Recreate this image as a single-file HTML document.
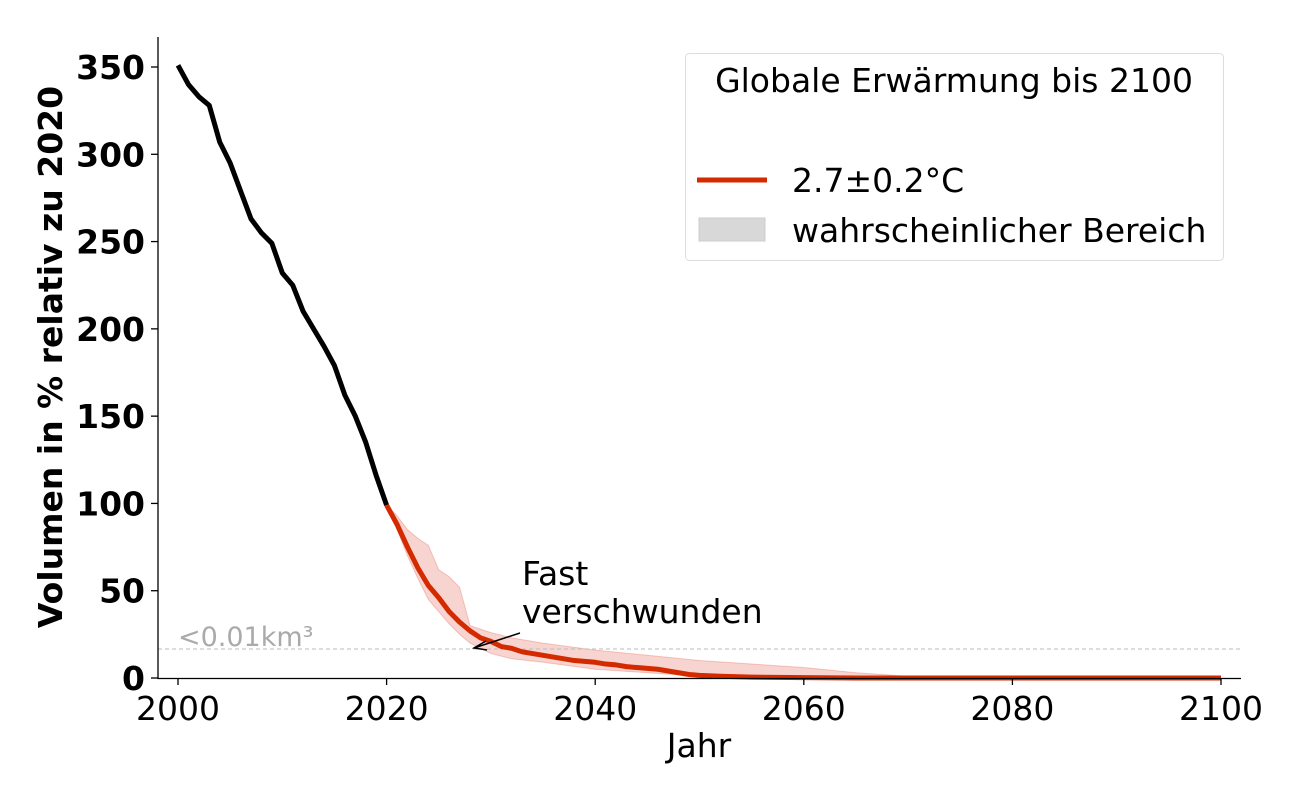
<!DOCTYPE html>
<html><head><meta charset="utf-8"><style>
body{margin:0;background:#fff;}
svg{display:block;font-family:"DejaVu Sans","Liberation Sans",sans-serif;}
</style></head><body>
<svg id="chart" width="1300" height="800">
<g id="plot"></g>
</svg>
<script>
const histYears=[2000,2001,2002,2003,2004,2005,2006,2007,2008,2009,2010,2011,2012,2013,2014,2015,2016,2017,2018,2019,2020];
const histValues=[351,340,333,328,307,295,279,263,255,249,232,225,210,200,190,179,162,150,135,116,99];
const projYears=[2020,2021,2022,2023,2024,2025,2026,2027,2028,2029,2030,2031,2032,2033,2034,2035,2036,2037,2038,2039,2040,2041,2042,2043,2044,2045,2046,2047,2048,2049,2050,2052,2055,2060,2065,2070,2080,2090,2100];
const projValues=[99,88,75,63,53,46,38,32,27,23,21,18,17,15,14,13,12,11,10,9.5,9,8,7.5,6.5,6,5.5,5,4,3,2,1.5,1,0.5,0.2,0,0,0,0,0];
const bandYears=[2020,2021,2022,2023,2024,2025,2026,2027,2028,2030,2032,2035,2040,2045,2050,2055,2060,2065,2070,2080,2100];
const bandUpper=[99,93,85,80,76,62,58,52,30,26,23,20,16,13,10,8,6,3,1,0,0];
const bandLower=[99,85,70,57,45,38,31,25,20,14,11,9,5,3,1,0.3,0,0,0,0,0];
const xTicks=[2000,2020,2040,2060,2080,2100];
const yTicks=[0,50,100,150,200,250,300,350];
const threshold=16.6;

const X=y=>178+(y-2000)*10.43;
const Y=v=>678-v*1.7457;
const g=document.getElementById('plot');
const NS='http://www.w3.org/2000/svg';
function mk(tag,attrs,parent){const e=document.createElementNS(NS,tag);for(const k in attrs)e.setAttribute(k,attrs[k]);(parent||g).appendChild(e);return e;}

let d='M'+bandYears.map((y,i)=>X(y)+','+Y(bandUpper[i])).join('L');
for(let i=bandYears.length-1;i>=0;i--)d+='L'+X(bandYears[i])+','+Y(bandLower[i]);
let band=mk('path',{d:d+'Z',fill:'rgba(220,60,40,0.22)',stroke:'rgba(220,60,40,0.25)','stroke-width':1});



let th=mk('line',{x1:158,x2:1241,y1:Y(threshold),y2:Y(threshold),stroke:'#bbb','stroke-width':1,'stroke-dasharray':'4,3'});


let tt=mk('text',{x:178,y:Y(threshold)-3,fill:'#aaa','font-size':27});tt.textContent='<0.01km³';



let hl=mk('polyline',{points:histYears.map((y,i)=>X(y)+','+Y(histValues[i])).join(' '),fill:'none',stroke:'#000','stroke-width':5,'stroke-linejoin':'round'});


let pl=mk('polyline',{points:projYears.map((y,i)=>X(y)+','+Y(projValues[i])).join(' '),fill:'none',stroke:'#d42a00','stroke-width':5,'stroke-linejoin':'round'});



let ax=mk('path',{d:'M158,37V678.5H1241',fill:'none',stroke:'#000','stroke-width':1.3});


xTicks.forEach(t=>{mk('line',{x1:X(t),x2:X(t),y1:678,y2:685,stroke:'#000','stroke-width':1.3});
 let l=mk('text',{x:X(t),y:720,'text-anchor':'middle','font-size':33});l.textContent=t;
 
 });
yTicks.forEach(t=>{mk('line',{x1:151,x2:158,y1:Y(t),y2:Y(t),stroke:'#000','stroke-width':1.3});
 let l=mk('text',{x:145,y:Y(t)+12,'text-anchor':'end','font-size':33,'font-weight':'bold'});l.textContent=t;
 
 });
let xt=mk('text',{x:699,y:757,'text-anchor':'middle','font-size':33});xt.textContent='Jahr';


let yt=mk('text',{transform:'translate(62,357) rotate(-90)','text-anchor':'middle','font-size':33,'font-weight':'bold'});yt.textContent='Volumen in % relativ zu 2020';



let an=mk('text',{x:522,y:585,'font-size':33});an.innerHTML='<tspan x="522">Fast</tspan><tspan x="522" dy="38">verschwunden</tspan>';


let ar=mk('path',{d:'M520,633L474,648M486,641L474,648L487,650',fill:'none',stroke:'#000','stroke-width':1.5});



const lg=mk('g',{});


mk('rect',{x:685.5,y:53.5,width:538,height:207,rx:4,fill:'#fff',stroke:'#ddd','stroke-width':1},lg);
let lt=mk('text',{x:954,y:92,'text-anchor':'middle','font-size':33},lg);lt.textContent='Globale Erwärmung bis 2100';


mk('line',{x1:697,x2:767,y1:180,y2:180,stroke:'#d42a00','stroke-width':5},lg);
let l1=mk('text',{x:792,y:192,'font-size':33},lg);l1.textContent='2.7±0.2°C';


mk('rect',{x:699,y:218,width:66,height:23,fill:'#d8d8d8',stroke:'#ccc'},lg);
let l2=mk('text',{x:792,y:242,'font-size':33},lg);l2.textContent='wahrscheinlicher Bereich';


</script>
</body></html>
